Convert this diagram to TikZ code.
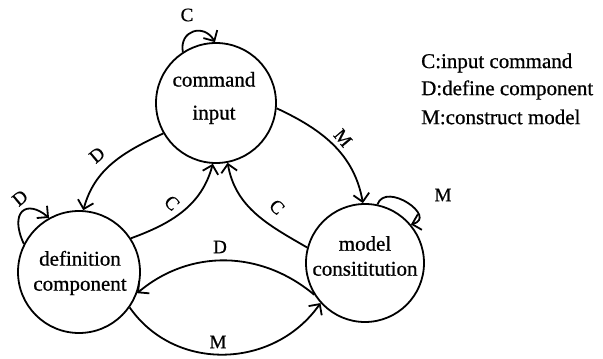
\documentclass[tikz,border=0pt]{standalone}
\usepackage{fontspec}
\setmainfont{Liberation Serif}
\newfontfamily\heavyserif{Liberation Serif}[FakeBold=0.7]
\usetikzlibrary{arrows.meta}
\begin{document}
\begin{tikzpicture}[x=1pt,y=1pt,
  state/.style={circle,draw,line width=1.8pt,minimum size=#1,inner sep=0pt},
  txt/.style={align=center,font=\heavyserif\fontsize{21}{25}\selectfont,inner sep=0pt},
  edge/.style={line width=1.8pt,-{Straight Barb[length=8pt,width=16pt]}},
  lab/.style={font=\heavyserif\fontsize{19}{22}\selectfont,inner sep=0pt},
  legend/.style={anchor=west,font=\heavyserif\fontsize{21}{25}\selectfont,inner sep=0pt}]
\useasboundingbox (0,0) rectangle (603,359);
% states
\node[state=120pt] (ci) at (216,256) {};
\node[state=122pt] (dc) at (79,87) {};
\node[state=118pt] (mc) at (365,96) {};
\node[txt] (cit) at (214,261) {command\\[8pt]input};
\node[txt] (dct) at (80,86) {definition\\component};
\node[txt] (mct) at (365,103) {model\\consititution};
% self loops
\draw[edge] (ci.123) .. controls +(100:22) and +(120:22) .. (ci.91);
\node[lab] (lc1) at (187,344) {C};
\draw[edge] (dc.153) .. controls +(115:35) and +(140:30) .. (dc.119);
\node[lab,rotate=40] (ld1) at (20,161) {D};
\draw[edge] (mc.78) .. controls +(70:25) and +(15:28) .. (mc.40);
\node[lab] (lm1) at (443,164) {M};
% transitions
\draw[edge] (ci.210) to[out=205,in=75] (dc.86);
\node[lab,rotate=40] (ld2) at (97,204) {D};
\draw[edge] (dc.33) to[out=20,in=255] (ci.267);
\node[lab,rotate=-45] (lc2) at (172,156) {C};
\draw[edge] (ci.-5) to[out=-25,in=100] (mc.92);
\node[lab,rotate=-50] (lm2) at (343,221) {M};
\draw[edge] (mc.165) to[out=150,in=280] (ci.281);
\node[lab,rotate=-45] (lc3) at (277,152) {C};
\draw[edge] (mc.212) to[out=140,in=40] (dc.340);
\node[lab] (ld3) at (220,112) {D};
\draw[edge] (dc.325) .. controls +(-55:80) and +(-125:80) .. (mc.222);
\node[lab] (lm3) at (218,17) {M};
% legend
\node[legend] (leg1) at (421,296) {C:input command};
\node[legend] (leg2) at (421,269) {D:define component};
\node[legend] (leg3) at (421,242) {M:construct model};
\end{tikzpicture}
\end{document}
